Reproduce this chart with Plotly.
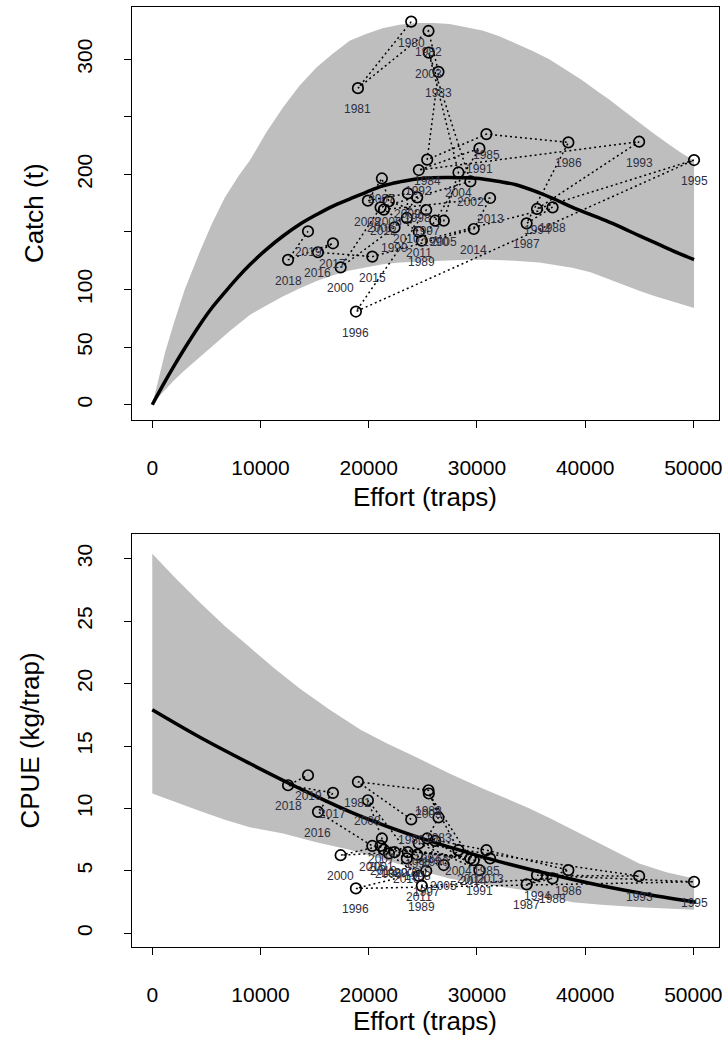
import plotly.graph_objects as go

# ---------------- data ----------------
years = list(range(1980, 2020))
effort = [23930, 19004, 25526, 26448, 25406, 30876, 38450, 34594, 36993, 24908,
          26144, 30230, 24631, 44990, 35553, 50065, 18819, 25314, 24483, 22389,
          17408, 21098, 29397, 25554, 28294, 26937, 21863, 21218, 19926, 23616,
          23524, 24631, 21402, 31218, 29705, 20332, 15314, 16697, 12546, 14391]
catch = [332.7, 274.9, 324.6, 289.1, 212.8, 235.0, 227.8, 157.5, 171.4, 142.5,
         159.8, 222.6, 203.8, 228.4, 170.0, 212.5, 80.9, 169.1, 180.1, 154.0,
         119.3, 171.4, 193.9, 305.8, 201.7, 159.8, 176.6, 196.5, 177.2, 183.5,
         162.2, 150.0, 169.4, 179.5, 152.6, 128.6, 132.4, 140.2, 125.8, 150.6]
cpue = [9.12, 12.13, 11.46, 9.28, 7.6, 6.66, 5.06, 3.92, 4.4, 3.8,
        7.4, 5.06, 7.2, 4.58, 4.66, 4.13, 3.6, 5.0, 6.3, 6.5,
        6.26, 7.0, 6.0, 11.2, 6.66, 5.47, 6.4, 7.6, 10.66, 6.5,
        6.0, 4.6, 6.7, 6.0, 5.86, 7.0, 9.73, 11.25, 11.86, 12.66]

# fitted production curve (catch) and CPUE curve
curve_effort = [0, 1000, 2000, 3000, 4400, 5500, 6700, 7800, 9013, 10500, 12085,
                13600, 15166, 16700, 18238, 19750, 21310, 22850, 24391, 25900,
                27463, 29000, 30535, 32076, 33616, 35766, 37300, 38838, 40400,
                41919, 43450, 44991, 46500, 48063, 50065]
curve_catch = [0, 17.2, 33.5, 49, 69.5, 84, 97.5, 109.5, 121.5, 134.5, 146.5,
               156.5, 165, 172.5, 178.6, 184.5, 190, 193.5, 196.1, 197.2,
               197.4, 197, 196, 193.8, 191, 184, 178, 171.4, 165.5,
               159.8, 153.5, 146.8, 140.5, 133.8, 126]
cpue_curve_effort = [0, 4400, 9013, 13625, 18238, 22851, 27463, 32076, 36688, 41301, 45913, 50250]
cpue_curve = [17.9, 15.7, 13.6, 11.6, 9.75, 8.2, 6.9, 5.75, 4.75, 3.85, 3.1, 2.5]

# uncertainty band, catch
bandC_up_effort = [0, 600, 1200, 2000, 3000, 4400, 5500, 6706, 8000, 9013, 10500, 12057,
                   13600, 15194, 16700, 18238, 19750, 21282, 22850, 24419, 25950, 27463,
                   29000, 30507, 32076, 33600, 35200, 36688, 38200, 39700, 41000, 42223,
                   43600, 44991, 46400, 47758, 49000, 50065]
bandC_up = [0, 24, 46, 71, 100, 133, 157, 180, 199, 212, 236, 258,
            277, 293, 305, 316, 322, 327, 330, 331.5, 331.5, 330.6,
            328, 325, 320, 314, 307, 300, 291, 282, 273, 265,
            255, 245, 235, 226, 218, 212]
bandC_lo_effort = [0, 1000, 2000, 3000, 4400, 5800, 7167, 9013, 10500, 12057, 13600,
                   15194, 16700, 18238, 19750, 21282, 22850, 24419, 25950, 27463, 29000,
                   31150, 33500, 35766, 37300, 38810, 40500, 42223, 43600, 44991, 46400,
                   47758, 49000, 50065]
bandC_lo = [0, 11, 21, 30, 42, 53, 64, 78, 86, 94, 101,
            107.5, 112.5, 116.5, 119.5, 122, 123.5, 124.5, 125, 125.5, 126,
            126, 125, 123.5, 121.5, 119, 115, 109.5, 104, 99, 94.5,
            90.5, 87, 84]

# uncertainty band, CPUE
bandU_up_effort = [0, 2200, 4400, 6700, 9013, 11300, 13625, 16400, 19250, 21700, 24400,
                   27463, 30536, 32694, 34870, 36800, 38838, 40800, 42900, 44991, 47500, 50065]
bandU_up = [30.4, 28.4, 26.5, 24.6, 22.9, 21.2, 19.6, 17.9, 16.3, 15.2, 14.1,
            12.8, 11.6, 10.8, 10.0, 9.2, 8.3, 7.4, 6.5, 5.6, 4.9, 4.4]
bandU_lo_effort = [0, 2200, 4400, 6700, 9013, 12085, 15166, 18238, 20700, 23000, 25300,
                   27463, 30000, 32500, 34870, 36800, 38838, 41500, 44991, 47500, 50065]
bandU_lo = [11.2, 10.5, 9.8, 9.1, 8.5, 8.0, 7.3, 6.7, 6.1, 5.5, 4.9,
            4.4, 4.0, 3.7, 3.4, 2.9, 2.5, 2.3, 2.1, 2.0, 1.9]

# ---------------- style ----------------
FONT = "Liberation Sans, Arial, sans-serif"
GREY = "#bebebe"
LABEL_COL = "#2e2e3e"
W, H = 728, 1042
ML, MR, MT, MB = 132, 7, 6, 95
XR = [-1873, 52370]
YR1 = [-12.9, 345.4]
YR2 = [-1.09, 31.94]

fig = go.Figure()


def add_panel(xa, ya, yvals, cx, cy, bx_up, by_up, bx_lo, by_lo):
    fig.add_trace(go.Scatter(
        x=bx_up + bx_lo[::-1], y=by_up + by_lo[::-1], fill="toself",
        fillcolor=GREY, line=dict(width=0), mode="lines", hoverinfo="skip",
        xaxis=xa, yaxis=ya, showlegend=False))
    fig.add_trace(go.Scatter(
        x=cx, y=cy, mode="lines", line=dict(color="black", width=3.5, shape="spline"),
        xaxis=xa, yaxis=ya, showlegend=False))
    fig.add_trace(go.Scatter(
        x=effort, y=yvals, mode="lines",
        line=dict(color="black", width=1.5, dash="2px,3px"),
        xaxis=xa, yaxis=ya, showlegend=False))
    fig.add_trace(go.Scatter(
        x=effort, y=yvals, mode="markers",
        marker=dict(symbol="circle-open", size=10.5, color="black", line=dict(width=1.7)),
        xaxis=xa, yaxis=ya, showlegend=False))
    for yr, e, v in zip(years, effort, yvals):
        fig.add_annotation(x=e, y=v, xref=xa.replace("axis", ""), yref=ya.replace("axis", ""),
                           text=str(yr), showarrow=False, yshift=-21,
                           font=dict(family=FONT, size=12, color=LABEL_COL))


add_panel("x", "y", catch, curve_effort, curve_catch,
          bandC_up_effort, bandC_up, bandC_lo_effort, bandC_lo)
add_panel("x2", "y2", cpue, cpue_curve_effort, cpue_curve,
          bandU_up_effort, bandU_up, bandU_lo_effort, bandU_lo)

plot_h = H - MT - MB
top_lo = (H - MB - 419) / plot_h
bot_hi = (H - MB - 534) / plot_h

axis_common = dict(showline=True, linecolor="black", linewidth=1.2, mirror=True,
                   ticks="outside", ticklen=7, tickwidth=1.2, tickcolor="black",
                   showgrid=False, zeroline=False,
                   tickfont=dict(family=FONT, size=21, color="black"))

xticks = [0, 10000, 20000, 30000, 40000, 50000]
fig.update_layout(
    width=W, height=H, margin=dict(l=ML, r=MR, t=MT, b=MB),
    paper_bgcolor="white", plot_bgcolor="white", showlegend=False,
    xaxis=dict(domain=[0, 1], range=XR, anchor="y", tickvals=xticks,
               ticktext=[str(t) for t in xticks], ticklabelstandoff=22, **axis_common),
    yaxis=dict(domain=[top_lo, 1], range=YR1, anchor="x",
               tickvals=[0, 50, 100, 150, 200, 250, 300],
               ticktext=["0", "50", "100", "", "200", "", "300"],
               tickangle=-90, ticklabelstandoff=24, **axis_common),
    xaxis2=dict(domain=[0, 1], range=XR, anchor="y2", tickvals=xticks,
                ticktext=[str(t) for t in xticks], ticklabelstandoff=22, **axis_common),
    yaxis2=dict(domain=[0, bot_hi], range=YR2, anchor="x2",
                tickvals=[0, 5, 10, 15, 20, 25, 30],
                ticktext=["0", "5", "10", "15", "20", "25", "30"],
                tickangle=-90, ticklabelstandoff=24, **axis_common),
)


def px_to_paper_x(px):
    return (px - ML) / (W - ML - MR)


def py_to_paper_y(py):
    return (H - MB - py) / plot_h


titles = [
    ("Catch (t)", 33, 212, -90),
    ("Effort (traps)", 426, 497, 0),
    ("CPUE (kg/trap)", 30, 740, -90),
    ("Effort (traps)", 426, 1021, 0),
]
for txt, px, py, ang in titles:
    fig.add_annotation(x=px_to_paper_x(px), y=py_to_paper_y(py), xref="paper", yref="paper",
                       text=txt, showarrow=False, textangle=ang,
                       xanchor="center", yanchor="middle",
                       font=dict(family=FONT, size=26, color="black"))

fig.write_html("out.html")
